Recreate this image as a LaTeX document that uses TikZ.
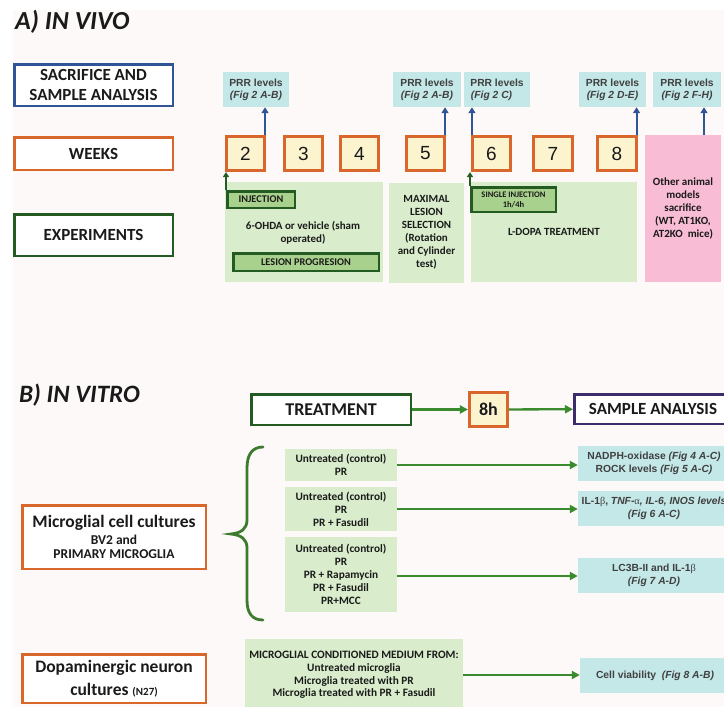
\documentclass[tikz,border=0pt]{standalone}
\usepackage{fontspec}
\setmainfont{Carlito}
\newfontfamily\arialf{Liberation Sans}
\newfontfamily\symf{Liberation Serif}
\usetikzlibrary{arrows.meta,calc}
\definecolor{bgc}{HTML}{FDF9F8}
\definecolor{cblue}{HTML}{2F5597}
\definecolor{corange}{HTML}{D9662A}
\definecolor{cdkgreen}{HTML}{235B23}
\definecolor{clgreen}{HTML}{D9EDCC}
\definecolor{cmgreen}{HTML}{A9D18E}
\definecolor{ccyan}{HTML}{C4E7E7}
\definecolor{cyellow}{HTML}{FBF4CF}
\definecolor{cpink}{HTML}{F8BDD4}
\definecolor{cpurple}{HTML}{3D2B6B}
\definecolor{carrowg}{HTML}{3A8A2E}
\definecolor{cgreytext}{HTML}{404040}
\definecolor{cbrace}{HTML}{3C7A2E}
\definecolor{ctext}{HTML}{1A1A1A}
\begin{document}
\begin{tikzpicture}[x=1pt,y=-1pt,
 lab/.style={draw, line width=2.5pt, fill=white, align=center, inner sep=0pt, text=ctext, font=\bfseries\fontsize{17}{20}\selectfont},
 wk/.style={draw=corange, line width=2.6pt, fill=cyellow, inner sep=0pt, minimum width=38.5pt, minimum height=34.5pt, text=ctext, font=\arialf\fontsize{19}{20}\selectfont},
 prr/.style={fill=ccyan, inner sep=0pt, minimum height=35pt, align=center, text=cgreytext, font=\arialf\bfseries\fontsize{10.3}{12}\selectfont},
 exbox/.style={fill=clgreen, inner sep=0pt, align=center, text=ctext, font=\bfseries\fontsize{11}{13}\selectfont},
 bbox/.style={exbox, font=\bfseries\fontsize{11.3}{13}\selectfont},
 tag/.style={draw=cdkgreen, line width=2.5pt, fill=cmgreen, inner sep=0pt, align=center, text=ctext, font=\bfseries\fontsize{10.3}{12}\selectfont},
 barrow/.style={draw=cblue, line width=2pt, -{Triangle[length=6pt,width=7pt]}},
 garrow/.style={draw=cdkgreen, line width=2pt, -{Triangle[length=5pt,width=6pt]}},
 harrow/.style={draw=carrowg, line width=2.3pt, -{Triangle[length=8pt,width=8pt]}},
 cbox/.style={fill=ccyan, inner sep=0pt, align=center, text=cgreytext, font=\arialf\bfseries\fontsize{10.3}{13}\selectfont, minimum width=152pt, minimum height=35pt},
 ttl/.style={anchor=west, inner sep=0pt, text=ctext},
 plain/.style={inner sep=0pt, align=center, text=ctext, font=\bfseries\fontsize{11}{13}\selectfont}
]
\useasboundingbox (0,0) rectangle (724,707);
\clip (0,0) rectangle (724,707);
\fill[white] (0,0) rectangle (724,707);
\fill[bgc] (13,10) rectangle (724,707);

% ---------------- A) IN VIVO
\node[ttl, font=\bfseries\itshape\fontsize{26}{28}\selectfont] (tA) at (15,22) {A) IN VIVO};

\node[lab, draw=cblue, minimum width=158.5pt, minimum height=41.5pt] (sac) at (93.5,85) {SACRIFICE AND\\SAMPLE ANALYSIS};
\node[lab, draw=corange, minimum width=158.5pt, minimum height=32.5pt] (weeks) at (93.5,153.5) {WEEKS};
\node[lab, draw=cdkgreen, minimum width=158.5pt, minimum height=41.5pt] (exper) at (93.5,235) {EXPERIMENTS};

\node[prr, minimum width=66pt] (p1) at (256,89.5) {PRR levels\\{\itshape (Fig 2 A-B)}};
\node[prr, minimum width=68pt] (p2) at (427,89.5) {PRR levels\\{\itshape (Fig 2 A-B)}};
\node[prr, minimum width=66pt] (p3) at (497,89.5) {PRR levels\\{\itshape (Fig 2 C)\phantom{-B}}};
\node[prr, minimum width=67pt] (p4) at (612.5,89.5) {PRR levels\\{\itshape (Fig 2 D-E)}};
\node[prr, minimum width=68pt] (p5) at (687,89.5) {PRR levels\\{\itshape (Fig 2 F-H)}};

\node[exbox, minimum width=158pt, minimum height=100pt] (g1) at (304,232) {};
\node[exbox, minimum width=75pt, minimum height=100pt] (g2) at (426.5,232.5) {MAXIMAL\\LESION\\SELECTION\\(Rotation\\and Cylinder\\test)};
\node[exbox, minimum width=166pt, minimum height=100pt] (g3) at (554,232) {L-DOPA TREATMENT};
\node[exbox, fill=cpink, minimum width=76pt, minimum height=147pt] (pink) at (683,208.5) {Other animal\\models\\sacrifice\\(WT, AT1KO,\\AT2KO~ mice)};

\node[wk] (w2) at (245.5,153.5) {2};
\node[wk] (w3) at (303.5,153.5) {3};
\node[wk] (w4) at (359.5,153.5) {4};
\node[wk] (w5) at (425.5,153.5) {5};
\node[wk] (w6) at (491.5,153.5) {6};
\node[wk] (w7) at (553,153.5) {7};
\node[wk] (w8) at (617,153.5) {8};

\node[tag, minimum width=67.5pt, minimum height=16.5pt] (inj) at (261,199.5) {INJECTION};
\node[plain] (ohda) at (303,232.5) {6-OHDA or vehicle (sham\\operated)};
\node[tag, minimum width=145.5pt, minimum height=17.5pt] (les) at (306,262) {LESION PROGRESION};
\node[tag, minimum width=84.5pt, minimum height=24.5pt, font=\bfseries\fontsize{8.5}{10}\selectfont] (sing) at (513.5,199.5) {SINGLE INJECTION\\1h/4h};

\draw[barrow] ([xshift=-1pt]w2.north east) -- ([xshift=-1pt]w2.north east |- p1.south);
\draw[barrow] ([xshift=-1pt]w5.north east) -- ([xshift=-1pt]w5.north east |- p2.south);
\draw[barrow] ([xshift=1pt]w6.north west) -- ([xshift=1pt]w6.north west |- p3.south);
\draw[barrow] ([xshift=-1pt]w8.north east) -- ([xshift=-1pt]w8.north east |- p4.south);
\draw[barrow] ([xshift=21pt]pink.north) -- ([xshift=21pt]pink.north |- p5.south);

\draw[garrow] (inj.north west) -- (inj.north west |- w2.south);
\draw[garrow] (sing.north west) -- (sing.north west |- w6.south);

% ---------------- B) IN VITRO
\node[ttl, font=\bfseries\itshape\fontsize{25}{27}\selectfont] (tB) at (19,395) {B) IN VITRO};

\node[lab, draw=cdkgreen, minimum width=159.5pt, minimum height=30.5pt, font=\bfseries\fontsize{18}{20}\selectfont] (treat) at (331,409.5) {TREATMENT};
\node[wk, font=\bfseries\fontsize{18}{20}\selectfont] (h8) at (488.5,409.5) {8h};
\node[lab, draw=cpurple, minimum width=157.5pt, minimum height=29.5pt] (samp) at (653,409) {SAMPLE ANALYSIS};
\draw[harrow] (treat) -- (h8);
\draw[harrow] (h8) -- (samp);

\node[lab, draw=corange, minimum width=183.5pt, minimum height=63.5pt, font=\bfseries\fontsize{13.5}{14}\selectfont] (micro) at (114,537) {{\fontsize{17.5}{19}\selectfont Microglial cell cultures}\\[3pt]BV2 and\\PRIMARY MICROGLIA};
\node[lab, draw=corange, minimum width=183.5pt, minimum height=48.5pt, font=\bfseries\fontsize{17.5}{23}\selectfont] (dop) at (114,678.5) {Dopaminergic neuron\\cultures {\fontsize{11}{13}\selectfont (N27)}};

\draw[cbrace, line width=2.8pt, line cap=round] (263,447) .. controls (252,447) and (247,455) .. (247,468) -- (247,520) .. controls (247,529) and (241,533) .. (231,534) .. controls (241,535) and (247,539) .. (247,548) -- (247,600) .. controls (247,613) and (252,620) .. (263,620);

\node[bbox, minimum width=112pt, minimum height=32pt] (gb1) at (341,465) {Untreated (control)\\PR};
\node[bbox, minimum width=112pt, minimum height=44pt] (gb2) at (341,509) {Untreated (control)\\PR\\PR + Fasudil};
\node[bbox, minimum width=112pt, minimum height=75pt] (gb3) at (341,574.5) {Untreated (control)\\PR\\PR + Rapamycin\\PR + Fasudil\\PR+MCC};
\node[bbox, minimum width=218pt, minimum height=72pt, font=\bfseries\fontsize{11.3}{12.7}\selectfont] (gb4) at (354,675) {MICROGLIAL CONDITIONED MEDIUM FROM:\\Untreated microglia\\Microglia treated with PR\\Microglia treated with PR + Fasudil};

\node[cbox] (cb1) at (654,463.5) {NADPH-oxidase {\itshape (Fig 4 A-C)}\\ROCK levels {\itshape (Fig 5 A-C)}};
\node[cbox] (cb2) at (654,508.5) {IL-1{\symf\mdseries β}, {\itshape TNF-{\symf\mdseries\upshape α}, IL-6, INOS levels}\\{\itshape (Fig 6 A-C)}};
\node[cbox] (cb3) at (654,575.5) {LC3B-II and IL-1{\symf\mdseries β}\\{\itshape (Fig 7 A-D)}};
\node[cbox, minimum width=150pt] (cb4) at (655,675.5) {Cell viability~~{\itshape (Fig 8 A-B)}};

\draw[harrow] (gb1.east) -- (gb1.east -| cb1.west);
\draw[harrow] (gb2.east) -- (gb2.east -| cb2.west);
\draw[harrow] ([yshift=-1.5pt]gb3.east) -- ([yshift=-1.5pt]gb3.east -| cb3.west);
\draw[harrow] (gb4.east) -- (gb4.east -| cb4.west);
\end{tikzpicture}
\end{document}
